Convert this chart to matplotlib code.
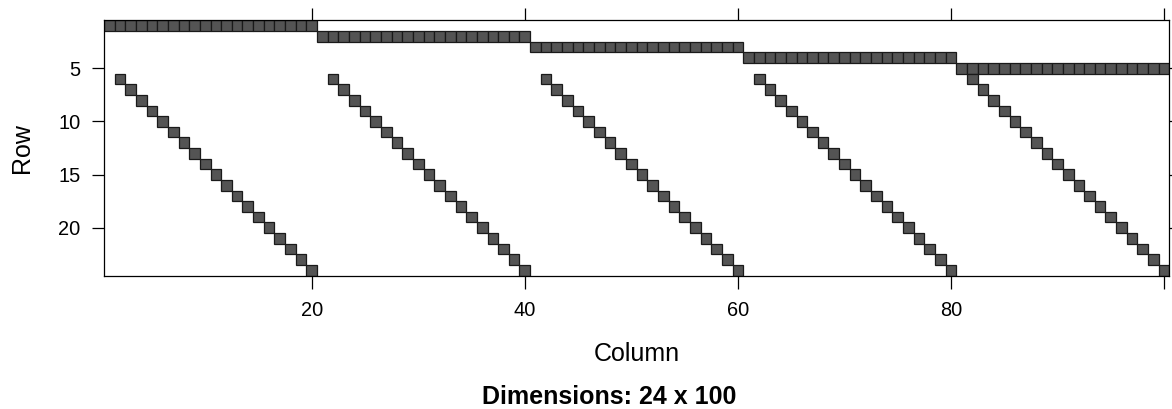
import numpy as np
import matplotlib.pyplot as plt

plt.rcParams['font.family'] = ['Liberation Sans', 'DejaVu Sans']

# Sparse pattern of a 24 x 100 matrix (rows counted from the top)
n_rows = 24
n_cols = 100

# rows 1-5: one full run of 20 columns each
block_rows = [1, 2, 3, 4, 5]
block_first_col = [1, 21, 41, 61, 81]
block_last_col = [20, 40, 60, 80, 100]

# rows 6-24: one diagonal per block, starting one column after the block start
diag_first_row = 6
diag_last_row = 24
diag_first_col = [2, 22, 42, 62, 82]

x_ticks = [20, 40, 60, 80, 100]
x_tick_labels = ['20', '40', '60', '80', '']
y_ticks = [5, 10, 15, 20]

# ---- expand the pattern into (row, col) pairs ----
rows = []
cols = []
for r, c0, c1 in zip(block_rows, block_first_col, block_last_col):
    for c in range(c0, c1 + 1):
        rows.append(r)
        cols.append(c)
for c0 in diag_first_col:
    for k, r in enumerate(range(diag_first_row, diag_last_row + 1)):
        rows.append(r)
        cols.append(c0 + k)
rows = np.array(rows)
cols = np.array(cols)

# ---- plot ----
fig = plt.figure(figsize=(11.72, 4.09), dpi=100)
ax = fig.add_axes([0.0887, 0.3262, 0.9091, 0.6237])

ax.bar(cols, 1.0, width=1.0, bottom=rows - 0.5, color='#545454',
       edgecolor='#1a1a1a', linewidth=0.9)

ax.set_xlim(0.5, n_cols + 0.5)
ax.set_ylim(n_rows + 0.5, 0.5)

ax.set_xticks(x_ticks)
ax.set_xticklabels(x_tick_labels)
ax.set_yticks(y_ticks)
ax.tick_params(axis='both', direction='out', length=9, width=0.9,
               labelsize=14.4, color='black')
ax.tick_params(axis='x', pad=9.5, top=True)
ax.tick_params(axis='y', pad=8, right=True)

for s in ax.spines.values():
    s.set_linewidth(0.9)
    s.set_color('black')

fig.text(0.5432, 1 - 361 / 409, 'Column', ha='center', va='baseline', fontsize=18)
fig.text(0.0185, 1 - 148 / 409, 'Row', ha='center', va='center', rotation=90, fontsize=18)
fig.text(609 / 1172, 5 / 409, 'Dimensions: 24 x 100', ha='center', va='baseline',
         fontsize=18, fontweight='bold')

fig.savefig('out.png', dpi=100)
